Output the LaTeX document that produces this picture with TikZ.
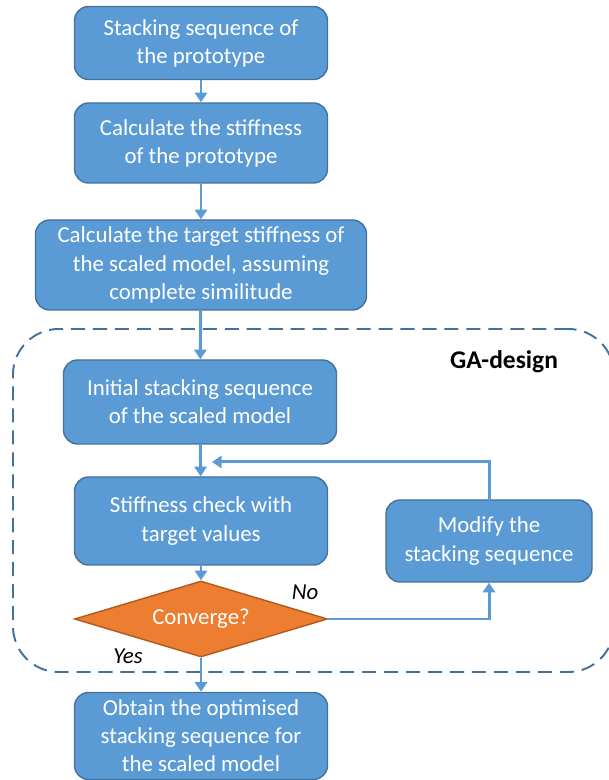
\documentclass[tikz,border=0pt]{standalone}
\usepackage{fontspec}
\setmainfont{Carlito}
\usetikzlibrary{shapes.geometric,arrows.meta}
\definecolor{boxblue}{HTML}{5B9BD5}
\definecolor{boxedge}{HTML}{41719C}
\definecolor{decorange}{HTML}{ED7D31}
\definecolor{decedge}{HTML}{AE5A21}
\begin{document}
\begin{tikzpicture}[font=\fontsize{13}{16}\selectfont,
      stepbox/.style={rectangle, rounded corners=8pt, draw=boxedge, fill=boxblue,
                      thick, text=white, align=center, inner sep=2pt},
      decision/.style={diamond, draw=decedge, fill=decorange, thick,
                       text=white, inner sep=0pt, aspect=3.3},
      flow/.style={-{Triangle[width=7pt,length=5.5pt]}, line width=1.7pt, boxblue},
      gabox/.style={rectangle, rounded corners=26pt, draw=boxedge,
                    line width=1.1pt, dash pattern=on 8pt off 4.5pt},
    ]
    \useasboundingbox (0,0) rectangle (12.16,15.6);

    % GA loop frame
    \node[gabox, minimum width=12.02cm, minimum height=6.86cm] (ga) at (6.27,5.59) {};
    \node[font=\fontsize{14.5}{17}\selectfont\bfseries] (gatitle) at (10.08,8.36) {GA-design};

    % Preparation steps
    \node[stepbox, minimum width=5.06cm, minimum height=1.46cm] (proto) at (4.02,14.74)
      {Stacking sequence of\\the prototype};
    \node[stepbox, minimum width=5.06cm, minimum height=1.6cm] (stiff) at (4.02,12.74)
      {Calculate the stiffness\\of the prototype};
    \node[stepbox, minimum width=6.62cm, minimum height=1.8cm] (target) at (4.02,10.3)
      {Calculate the target stiffness of\\the scaled model, assuming\\complete similitude};

    % Inside the GA loop
    \node[stepbox, minimum width=5.46cm, minimum height=1.68cm] (init) at (4.0,7.56)
      {Initial stacking sequence\\of the scaled model};
    \node[stepbox, minimum width=5.06cm, minimum height=1.76cm] (check) at (4.02,5.18)
      {Stiffness check with\\target values};
    \node[decision, minimum width=5.06cm, minimum height=1.52cm] (conv) at (4.02,3.22)
      {Converge?};
    \node[stepbox, minimum width=4.12cm, minimum height=1.64cm] (modify) at (9.78,4.78)
      {Modify the\\stacking sequence};

    % Result
    \node[stepbox, minimum width=5.06cm, minimum height=1.74cm] (final) at (4.02,0.88)
      {Obtain the optimised\\stacking sequence for\\the scaled model};

    % Straight flow
    \draw[flow] (proto) -- (stiff);
    \draw[flow] (stiff) -- (target);
    \draw[flow] (target) -- (init);
    \draw[flow] (init) -- (check);
    \draw[flow] (check) -- (conv);
    \draw[flow] (conv) -- (final);

    % Feedback loop
    \coordinate (join) at (4.24,6.36);
    \draw[flow] (conv.east) -| (modify.south);
    \draw[flow] (modify.north) |- (join);

    % Branch labels
    \node[font=\fontsize{13}{16}\selectfont\itshape] (no) at (6.1,3.76) {No};
    \node[font=\fontsize{13}{16}\selectfont\itshape] (yes) at (2.56,2.48) {Yes};
  \end{tikzpicture}
\end{document}
